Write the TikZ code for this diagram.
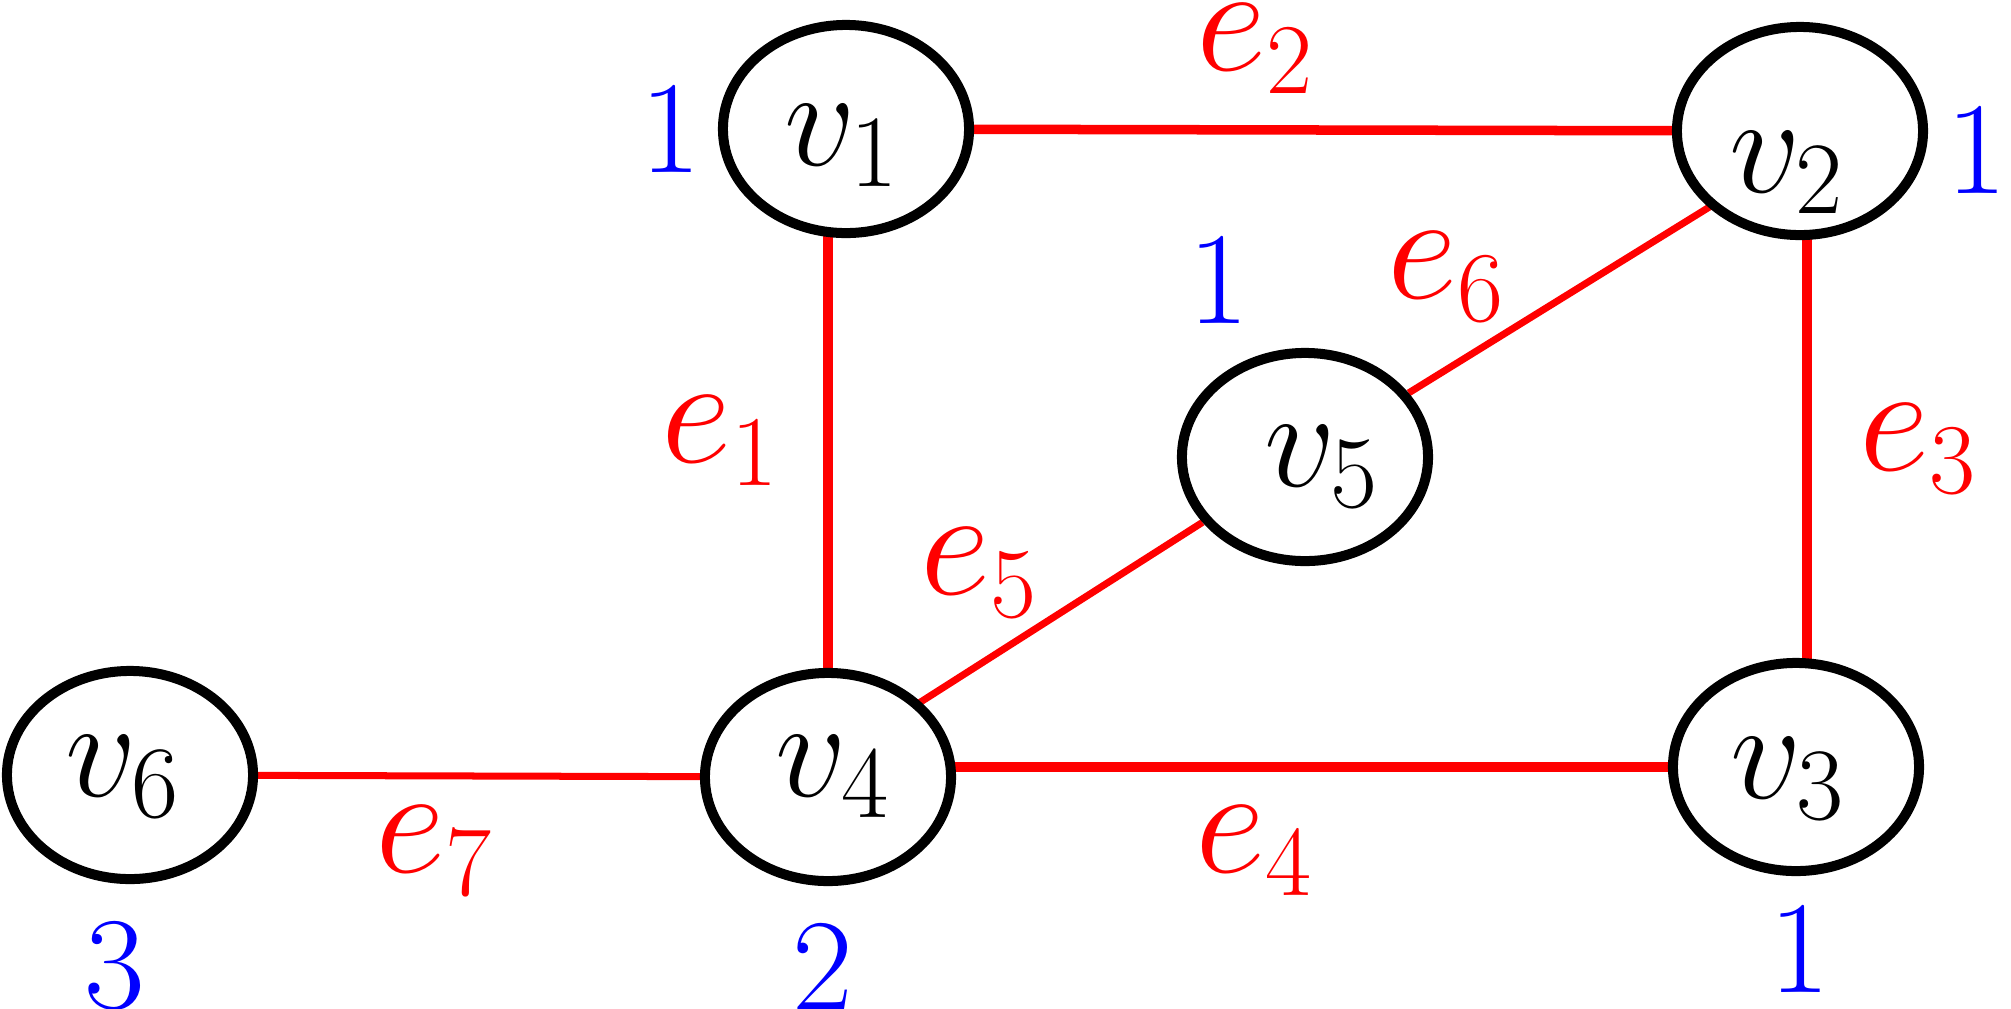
\RequirePackage{fix-cm}
\documentclass[tikz,border=0pt]{standalone}
\usetikzlibrary{calc,backgrounds,shapes.geometric}
\DeclareMathSizes{40}{40}{29.2}{20}
\DeclareMathSizes{43.8}{43.8}{28.5}{20}
\begin{document}
\begin{tikzpicture}[x=0.01cm,y=-0.01cm,
  vertex/.style={ellipse, draw=black, line width=0.1cm, fill=white,
    minimum width=2.46cm, minimum height=2.08cm, inner sep=0pt},
  vtext/.style={font=\fontsize{40}{48}\selectfont, anchor=base, inner sep=0pt},
  elabel/.style={font=\fontsize{43.8}{52}\selectfont, text=red, anchor=base west, inner sep=0pt},
  wlabel/.style={font=\fontsize{37.5}{45}\selectfont, text=blue, anchor=base, inner sep=0pt},
  thick edge/.style={draw=red, line width=0.095cm},
  thin edge/.style={draw=red, line width=0.07cm}]
\useasboundingbox (0,0) rectangle (2011,1008);

% vertices
\node[vertex] (v1) at (846,129) {};
\node[vertex] (v2) at (1800,131) {};
\node[vertex] (v3) at (1796,767) {};
\node[vertex] (v4) at (828,777) {};
\node[vertex] (v5) at (1305,457) {};
\node[vertex] (v6) at (130,775) {};

% vertex texts
\node[vtext] (t1) at (842,165) {$v_1$};
\node[vtext] (t2) at (1787,192) {$v_2$};
\node[vtext] (t3) at (1788,798) {$v_3$};
\node[vtext] (t4) at (833,796) {$v_4$};
\node[vtext] (t5) at (1322,486) {$v_5$};
\node[vtext] (t6) at (123,796) {$v_6$};

% edges
\begin{pgfonlayer}{background}
\draw[thick edge] (v1) -- (v2);
\draw[thick edge] (v4) -- (v4 |- v1);
\draw[thick edge] ($(v2)+(7,0)$) -- ($(v2 |- v3)+(7,0)$);
\draw[thick edge] (v3) -- (v3 -| v4);
\draw[thin edge] ($(v4)+(0,-16)$) -- (v5);
\draw[thin edge] (v5) -- ($(v2)+(0,20)$);
\draw[thin edge] (v6) -- (v4);
\end{pgfonlayer}

% edge labels
\node[elabel] (l1) at (661,462) {$e_1$};
\node[elabel] (l2) at (1196,70) {$e_2$};
\node[elabel] (l3) at (1859,470) {$e_3$};
\node[elabel] (l4) at (1195,872) {$e_4$};
\node[elabel] (l5) at (920,594) {$e_5$};
\node[elabel] (l6) at (1387,298) {$e_6$};
\node[elabel] (l7) at (375,872) {$e_7$};

% weights
\node[wlabel] (w1) at (671,172) {$1$};
\node[wlabel] (w2) at (1977,193) {$1$};
\node[wlabel] (w5) at (1219,323) {$1$};
\node[wlabel] (w3) at (1800,992) {$1$};
\node[wlabel] (w6) at (115,1008) {$3$};
\node[wlabel] (w4) at (823,1010) {$2$};
\end{tikzpicture}
\end{document}
